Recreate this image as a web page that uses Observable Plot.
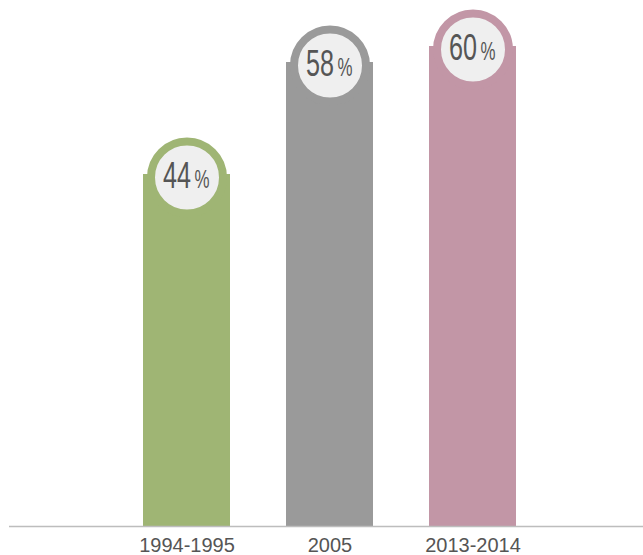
<!DOCTYPE html>
<html>
<head>
<meta charset="utf-8">
<script src="https://cdn.jsdelivr.net/npm/d3@7"></script>
<script src="https://cdn.jsdelivr.net/npm/@observablehq/plot@0.6"></script>
<style>
  html, body { margin: 0; padding: 0; background: #fff; }
  #chart svg { display: block; }
</style>
</head>
<body>
<div id="chart"></div>
<script>
const periods = ["1994-1995", "2005", "2013-2014"];
const values = [44, 58, 60];
const colors = ["#9fb574", "#9a9a9a", "#c296a6"];

const data = periods.map((p, i) => ({period: p, value: values[i], color: colors[i], label: String(values[i])}));

const labelFont = "'Liberation Sans', Arial, sans-serif";

const chart = Plot.plot({
  width: 643,
  height: 555,
  marginTop: 46,
  marginBottom: 29,
  marginLeft: 9,
  marginRight: 0,
  style: {fontFamily: "'Liberation Sans', Helvetica, Arial, sans-serif", background: "#fff"},
  x: {domain: periods, range: [86, 574], padding: 0.389, label: null},
  y: {domain: [0, 60], axis: null},
  marks: [
    Plot.barY(data, {x: "period", y: "value", fill: "color"}),
    Plot.ruleY([0], {stroke: "#bdbdbd", strokeWidth: 1.5}),
    Plot.dot(data, {x: "period", y: "value", r: 36, fill: "#efefef", stroke: "color", strokeWidth: 8, dy: 3}),
    Plot.text(data, {x: "period", y: "value", text: "label", textAnchor: "end", lineAnchor: "bottom", dx: 4, dy: 13, fontSize: 37, fill: "#555", fontFamily: labelFont, className: "num-label"}),
    Plot.text(data, {x: "period", y: "value", text: () => "%", textAnchor: "start", lineAnchor: "bottom", dx: 7.5, dy: 13, fontSize: 26, fill: "#555", fontFamily: labelFont, className: "pct-label"}),
    Plot.axisX({tickSize: 0, tickPadding: 11, fontSize: 20, fill: "#555", label: null})
  ]
});

// condense the circle labels horizontally
function condense(sel, sx) {
  d3.select(chart).selectAll(sel + " text").each(function() {
    const t = this.getAttribute("transform");
    if (t) {
      this.setAttribute("transform", t + ` scale(${sx},1)`);
    } else {
      const x = +(this.getAttribute("x") || 0), y = +(this.getAttribute("y") || 0);
      this.removeAttribute("x"); this.removeAttribute("y");
      this.setAttribute("transform", `translate(${x},${y}) scale(${sx},1)`);
    }
  });
}
condense(".num-label", 0.68);
condense(".pct-label", 0.65);

document.getElementById("chart").appendChild(chart);
</script>
</body>
</html>
